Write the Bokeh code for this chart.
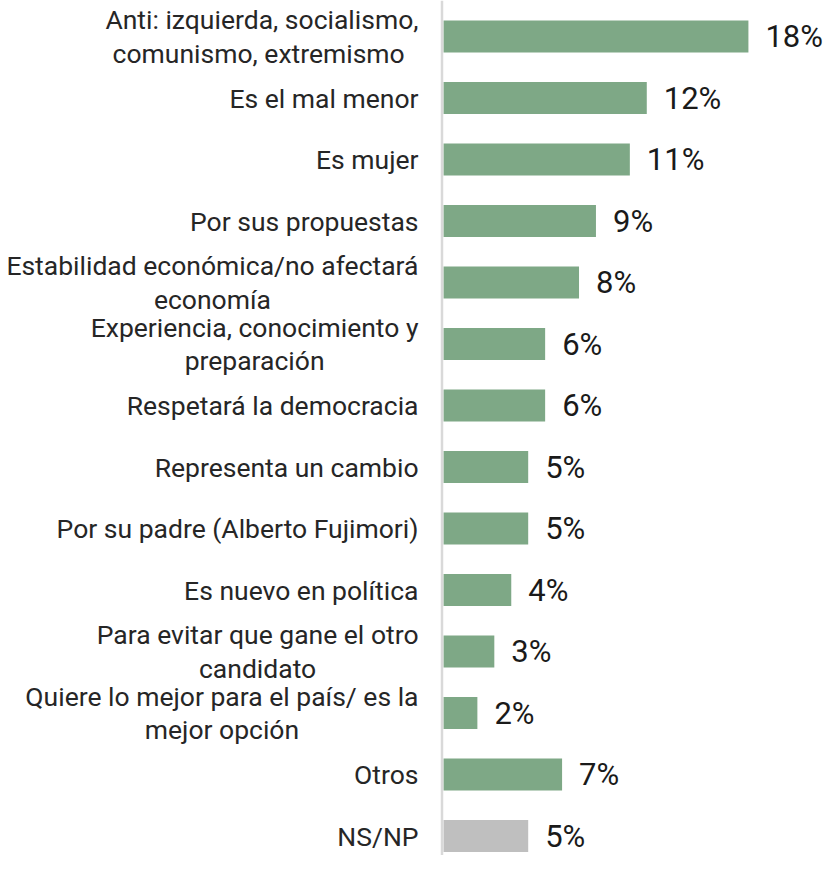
from bokeh.plotting import figure
from bokeh.models import ColumnDataSource, Range1d, Span
from bokeh.core.properties import value
from bokeh.embed import file_html
from bokeh.resources import INLINE

categories = [
    "Anti: izquierda, socialismo,\ncomunismo, extremismo ",
    "Es el mal menor",
    "Es mujer",
    "Por sus propuestas",
    "Estabilidad económica/no afectará\neconomía",
    "Experiencia, conocimiento y\npreparación",
    "Respetará la democracia",
    "Representa un cambio",
    "Por su padre (Alberto Fujimori)",
    "Es nuevo en política",
    "Para evitar que gane el otro\ncandidato",
    "Quiere lo mejor para el país/ es la\nmejor opción",
    "Otros",
    "NS/NP",
]
values = [18, 12, 11, 9, 8, 6, 6, 5, 5, 4, 3, 2, 7, 5]
value_labels = ["18%", "12%", "11%", "9%", "8%", "6%", "6%", "5%", "5%", "4%", "3%", "2%", "7%", "5%"]

GREEN = "#7ea886"
GREY = "#bfbfbf"
colors = [GREEN] * 13 + [GREY]
rows = list(range(len(categories)))

W, H = 823, 855
PX_PER_UNIT = 16.94
X0 = 443  # pixel of zero
ROW_PX = 61.5
FIRST_ROW = 36

src = ColumnDataSource(dict(y=rows, v=values, cat=categories, lab=value_labels, color=colors,
                            zero=[0] * len(rows)))

p = figure(width=W, height=H, output_backend="svg", toolbar_location=None,
           x_range=Range1d(-X0 / PX_PER_UNIT, (W - X0) / PX_PER_UNIT),
           y_range=Range1d((H - FIRST_ROW) / ROW_PX, -FIRST_ROW / ROW_PX),
           min_border=0, outline_line_color=None)
p.axis.visible = False
p.grid.visible = False
p.background_fill_color = "white"
p.border_fill_color = "white"

p.hbar(y="y", left="zero", right="v", height=32 / ROW_PX, fill_color="color", line_color=None, source=src)

p.add_layout(Span(location=-1.5 / PX_PER_UNIT, dimension="height", line_color="#d9d9d9", line_width=2.5))

p.text(x="zero", y="y", text="cat", source=src, x_offset=-25, anchor="center_right", text_align="center",
       text_baseline="middle", text_font=value("Roboto"), text_font_size="26.5px", text_color="#262626",
       text_line_height=1.07)

p.text(x="v", y="y", text="lab", source=src, x_offset=17, text_align="left", text_baseline="middle",
       text_font=value("Roboto"), text_font_size="31px", text_color="#1a1a1a")

open("out.html", "w").write(file_html(p, INLINE))
